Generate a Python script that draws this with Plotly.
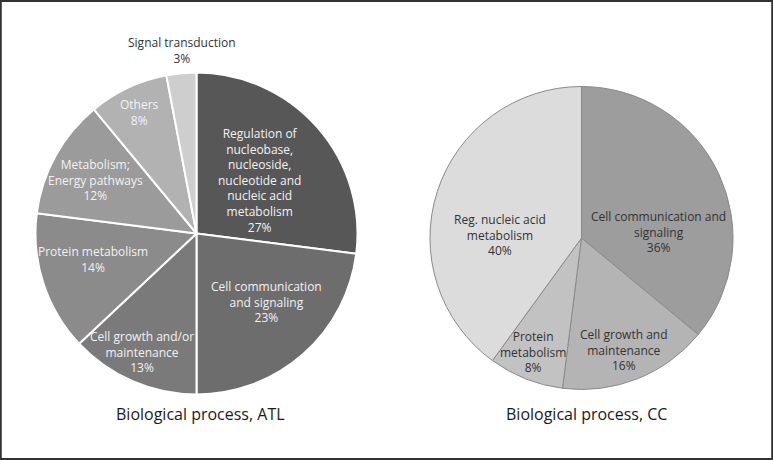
import math
import plotly.graph_objects as go

# ---- data ----
atl_labels = ["Regulation of<br>nucleobase,<br>nucleoside,<br>nucleotide and<br>nucleic acid<br>metabolism",
              "Cell communication<br>and signaling",
              "Cell growth and/or<br>maintenance",
              "Protein metabolism",
              "Metabolism;<br>Energy pathways",
              "Others",
              "Signal transduction"]
atl_values = [27, 23, 13, 14, 12, 8, 3]

cc_labels = ["Cell communication and<br>signaling",
             "Cell growth and<br>maintenance",
             "Protein<br>metabolism",
             "Reg. nucleic acid<br>metabolism"]
cc_values = [36, 16, 8, 40]

# ---- styles ----
atl_colors = ["#575757", "#6d6d6d", "#7a7a7a", "#8b8b8b", "#9b9b9b", "#b2b2b2", "#cecece"]
cc_colors = ["#9d9d9d", "#b4b4b4", "#c2c2c2", "#dcdcdc"]
atl_text_colors = ["#f2f2f2"] * 6 + ["#333333"]
cc_text_colors = ["#333333"] * 4
# label placement: (radius fraction, angle offset in degrees)
atl_label_pos = [(0.51, 1), (0.61, -4), (0.81, 1.5), (0.66, 4), (0.71, -1), (0.83, 0), (1.14, 1)]
cc_label_pos = [(0.51, 21), (0.79, 1), (0.82, 1.5), (0.54, -16)]

W, H = 773, 460
FONT = "Open Sans"

pies = [
    dict(labels=atl_labels, values=atl_values, colors=atl_colors, tcol=atl_text_colors,
         pos=atl_label_pos, cx=196.5, cy=233.5, r=161, line="white", lw=2,
         title="Biological process, ATL", tx=200),
    dict(labels=cc_labels, values=cc_values, colors=cc_colors, tcol=cc_text_colors,
         pos=cc_label_pos, cx=581.5, cy=238, r=151.5, line="#8a8a8a", lw=1,
         title="Biological process, CC", tx=586),
]

fig = go.Figure()
annotations = []
for p in pies:
    cx, cy, r = p["cx"], p["cy"], p["r"]
    fig.add_trace(go.Pie(
        labels=[l.replace("<br>", " ") for l in p["labels"]],
        values=p["values"],
        sort=False, direction="clockwise", rotation=0,
        marker=dict(colors=p["colors"], line=dict(color=p["line"], width=p["lw"])),
        textinfo="none", hoverinfo="label+percent", showlegend=False,
        domain=dict(x=[(cx - r) / W, (cx + r) / W], y=[1 - (cy + r) / H, 1 - (cy - r) / H]),
    ))
    total = sum(p["values"])
    cum = 0
    for lab, v, tc, (fr, da) in zip(p["labels"], p["values"], p["tcol"], p["pos"]):
        mid = (cum + v / 2) / total * 360 + da
        cum += v
        px = cx + fr * r * math.sin(math.radians(mid))
        py = cy - fr * r * math.cos(math.radians(mid))
        annotations.append(dict(
            x=px / W, y=1 - py / H, xref="paper", yref="paper",
            text=f"{lab}<br>{round(v / total * 100)}%", showarrow=False,
            xanchor="center", yanchor="middle", align="center",
            font=dict(family=FONT, size=12, color=tc)))
    annotations.append(dict(
        x=p["tx"] / W, y=1 - 414 / H, xref="paper", yref="paper", text=p["title"],
        showarrow=False, xanchor="center", yanchor="middle",
        font=dict(family=FONT, size=16, color="#1a1a1a")))

fig.update_layout(
    width=W, height=H, margin=dict(l=0, r=0, t=0, b=0),
    paper_bgcolor="white", plot_bgcolor="white",
    annotations=annotations,
    shapes=[dict(type="rect", xref="paper", yref="paper", x0=0.001, y0=0.002, x1=0.999, y1=0.998,
                 line=dict(color="#333333", width=2))],
)
fig.write_html("out.html", config={"displayModeBar": False},
               post_script="document.body.style.margin='0';document.body.style.overflow='hidden';")
